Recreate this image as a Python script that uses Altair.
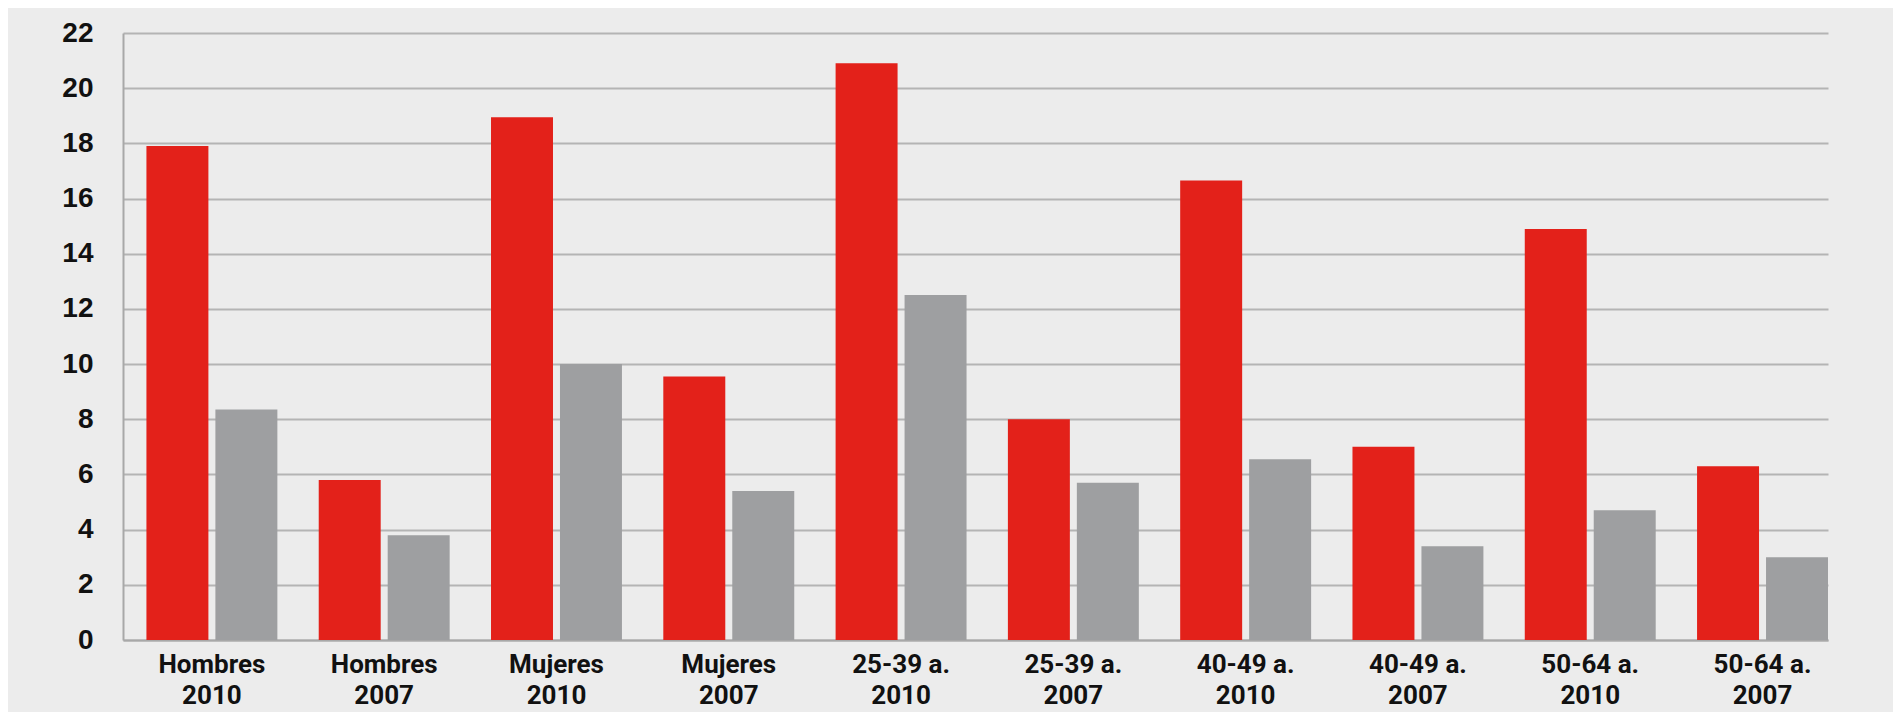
import altair as alt
import pandas as pd

# Categories (group + year) in display order
categorias = [
    "Hombres 2010", "Hombres 2007",
    "Mujeres 2010", "Mujeres 2007",
    "25-39 a. 2010", "25-39 a. 2007",
    "40-49 a. 2010", "40-49 a. 2007",
    "50-64 a. 2010", "50-64 a. 2007",
]
series = ["Serie 1", "Serie 2"]
serie_roja = [17.9, 5.8, 18.95, 9.55, 20.9, 8.0, 16.65, 7.0, 14.9, 6.3]
serie_gris = [8.35, 3.8, 10.0, 5.4, 12.5, 5.7, 6.55, 3.4, 4.7, 3.0]
y_ticks = [0, 2, 4, 6, 8, 10, 12, 14, 16, 18, 20, 22]

rows = []
for c, r, g in zip(categorias, serie_roja, serie_gris):
    rows.append({"categoria": c, "serie": series[0], "valor": r})
    rows.append({"categoria": c, "serie": series[1], "valor": g})
df = pd.DataFrame(rows)

chart = alt.Chart(df).mark_bar().encode(
    x=alt.X(
        "categoria:N",
        sort=categorias,
        title=None,
        scale=alt.Scale(paddingInner=0.24, paddingOuter=0.068, align=1),
        axis=alt.Axis(
            labelAngle=0,
            labelExpr="[slice(datum.label, 0, lastindexof(datum.label, ' ')), slice(datum.label, lastindexof(datum.label, ' ') + 1)]",
            labelFont="Roboto",
            labelFontSize=26,
            labelFontWeight="bold",
            labelColor="#111111",
            labelLineHeight=31,
            labelPadding=11,
            labelOverlap=False,
            labelLimit=0,
            ticks=False,
            grid=False,
            domainColor="#a8a8a8",
            domainWidth=2,
        ),
    ),
    xOffset=alt.XOffset(
        "serie:N",
        sort=series,
        scale=alt.Scale(paddingInner=0.1014, paddingOuter=0),
    ),
    y=alt.Y(
        "valor:Q",
        title=None,
        scale=alt.Scale(domain=[0, 22], nice=False),
        axis=alt.Axis(
            values=y_ticks,
            labelFont="Liberation Sans",
            labelFontSize=28,
            labelFontWeight="bold",
            labelColor="#111111",
            labelPadding=30,
            ticks=False,
            grid=True,
            gridColor="#b4b4b4",
            gridWidth=2,
            domainColor="#a8a8a8",
            domainWidth=2,
        ),
    ),
    color=alt.Color(
        "serie:N",
        scale=alt.Scale(domain=series, range=["#e3211a", "#9e9fa1"]),
        legend=None,
    ),
).properties(
    width=1705,
    height=607,
    background="#ececec",
    autosize=alt.AutoSizeParams(type="none"),
    padding={"left": 115, "top": 25, "right": 65, "bottom": 72},
).configure_view(stroke=None)

chart.save("out.html", embed_options={"renderer": "svg", "actions": False})
